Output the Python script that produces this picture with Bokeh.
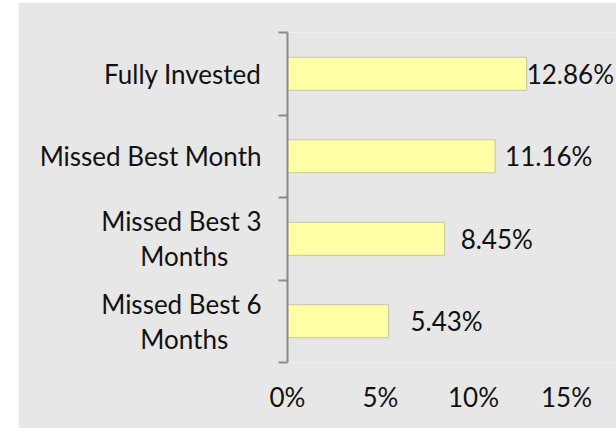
from bokeh.plotting import figure
from bokeh.models import FixedTicker, PrintfTickFormatter, ColumnDataSource, Spacer, Range1d
from bokeh.layouts import row, column
from bokeh.core.properties import value
from bokeh.embed import file_html
from bokeh.resources import INLINE

NB = "\u00a0" * 5  # keeps the second line visually centred under the first

# ---- data ----
categories = ["Fully Invested", "Missed Best Month", "Missed Best 3\nMonths" + NB, "Missed Best 6\nMonths" + NB]
values = [12.86, 11.16, 8.45, 5.43]
value_labels = ["12.86%", "11.16%", "8.45%", "5.43%"]
x_ticks = [0, 5, 10, 15]

# ---- styles ----
label_gap_px = [0, 10, 16, 22]
FONT = "Lato"
FS = "26px"
BG = "#e7e7e7"
AXIS = "#8a8a8a"
TXT = "#111111"

n = len(categories)
ypos = [n - 1 - i + 0.5 for i in range(n)]

src = ColumnDataSource(dict(y=ypos, v=values, lab=value_labels, gap=label_gap_px))

p = figure(width=598, height=426, output_backend="svg", toolbar_location=None,
           x_range=Range1d(0, 17.69), y_range=Range1d(0, n),
           min_border_left=269, min_border_right=0, min_border_top=30, min_border_bottom=66)
p.background_fill_color = BG
p.border_fill_color = BG
p.outline_line_color = None
p.grid.visible = False

p.hbar(y="y", right="v", left=0, height=0.4, source=src,
       fill_color="#ffffa6", line_color="#c4c4a8", line_width=1)

p.text(x="v", y="y", text="lab", x_offset="gap", source=src,
       text_font=value(FONT), text_font_size=FS, text_color=TXT,
       text_align="left", text_baseline="middle")

# y axis
ya = p.yaxis[0]
ya.ticker = FixedTicker(ticks=ypos, minor_ticks=list(range(n + 1)))
ya.major_label_overrides = {y: c for y, c in zip(ypos, categories)}
ya.major_tick_out = 0
ya.major_tick_in = 0
ya.minor_tick_out = 9
ya.minor_tick_in = 0
ya.minor_tick_line_color = AXIS
ya.minor_tick_line_width = 2
ya.axis_line_color = AXIS
ya.axis_line_width = 2
ya.major_label_text_font = FONT
ya.major_label_text_font_size = FS
ya.major_label_text_color = TXT
ya.major_label_standoff = 17
ya.major_label_text_line_height = 1.1

# x axis
xa = p.xaxis[0]
xa.ticker = FixedTicker(ticks=x_ticks)
xa.formatter = PrintfTickFormatter(format="%d%%")
xa.axis_line_color = None
xa.major_tick_line_color = None
xa.minor_tick_line_color = None
xa.major_label_text_font = FONT
xa.major_label_text_font_size = FS
xa.major_label_text_color = TXT
xa.major_label_standoff = 12

layout = column(Spacer(width=616, height=2), row(Spacer(width=18, height=426), p))
open("out.html", "w").write(file_html(layout, INLINE))
